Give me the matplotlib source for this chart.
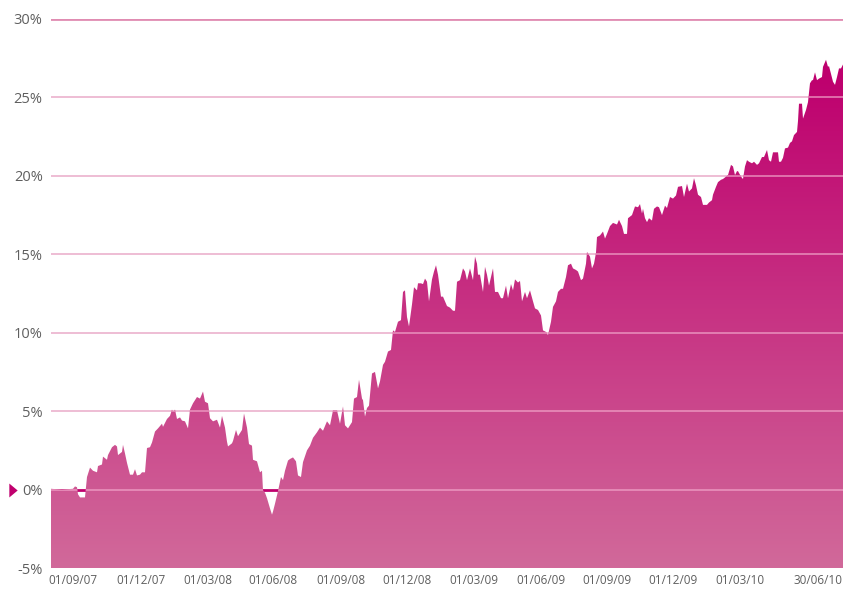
import numpy as np
import matplotlib
matplotlib.use("Agg")
import matplotlib.pyplot as plt
from matplotlib.colors import LinearSegmentedColormap

# trading-day number since start of the series, and cumulative return (%)
day = [0, 11, 22, 24, 26, 27, 29, 34, 36, 39, 42, 46, 47, 51, 52, 56, 57, 61,
       64, 66, 67, 71, 72, 74, 76, 79, 82, 84, 86, 89, 91, 94, 96, 99, 101,
       104, 107, 111, 112, 116, 119, 121, 122, 124, 126, 129, 131, 134, 137,
       139, 142, 146, 149, 152, 154, 157, 159, 162, 166, 169, 171, 174, 176,
       177, 181, 182, 185, 187, 191, 193, 196, 198, 201, 202, 206, 209, 211,
       212, 214, 216, 219, 221, 222, 224, 227, 230, 232, 234, 237, 239, 242,
       245, 247, 250, 252, 256, 259, 262, 266, 269, 272, 276, 279, 282, 286,
       289, 292, 294, 297, 301, 303, 306, 308, 311, 312, 314, 316, 318, 321,
       324, 327, 329, 332, 334, 337, 340, 342, 344, 347, 350, 352, 354, 356,
       358, 361, 363, 366, 367, 370, 372, 374, 376, 378, 381, 383, 385, 387,
       390, 392, 394, 396, 399, 402, 404, 406, 409, 412, 414, 416, 419, 422,
       424, 426, 427, 429, 432, 434, 436, 438, 442, 444, 447, 450, 452, 455,
       457, 460, 462, 464, 467, 469, 471, 474, 476, 479, 482, 484, 487, 490,
       492, 495, 497, 500, 502, 505, 507, 510, 512, 515, 517, 520, 522, 525,
       527, 530, 532, 535, 536, 539, 541, 543, 545, 546, 549, 552, 554, 556,
       559, 562, 566, 568, 571, 573, 576, 577, 581, 584, 587, 589, 591, 592,
       594, 596, 598, 601, 603, 606, 608, 611, 614, 616, 619, 622, 625, 627,
       631, 633, 636, 638, 641, 643, 645, 647, 650, 652, 656, 658, 661, 662,
       665, 667, 670, 672, 675, 677, 680, 682, 684, 686, 687, 690, 692, 694,
       696, 698, 701, 703, 706, 708, 711, 713, 716, 718, 720, 722, 725, 727,
       728, 730, 732, 734, 737, 739, 741, 743, 746, 747, 748, 751, 752, 755,
       757, 759, 761, 762, 764, 766, 768, 771, 772, 775, 777, 778, 780, 782,
       784, 786, 788, 790, 792]
ret = [0.05, 0.0, 0.05, 0.2, 0.15, -0.3, -0.5, -0.5, 0.8, 1.4, 1.2, 1.1, 1.5,
       1.6, 2.1, 1.9, 2.2, 2.7, 2.85, 2.75, 2.2, 2.4, 2.85, 2.3, 1.7, 0.95,
       0.95, 1.3, 0.9, 0.95, 1.1, 1.1, 2.65, 2.7, 3.0, 3.7, 3.9, 4.2, 4.0, 4.5,
       4.7, 5.1, 4.95, 5.1, 4.5, 4.6, 4.4, 4.35, 3.9, 5.1, 5.5, 5.9, 5.8, 6.25,
       5.6, 5.5, 4.55, 4.35, 4.45, 3.95, 4.7, 3.95, 3.05, 2.75, 2.95, 3.1,
       3.8, 3.4, 3.8, 4.85, 3.95, 2.9, 2.8, 1.9, 1.8, 1.1, 1.2, -0.05, -0.2,
       -0.55, -1.2, -1.6, -1.4, -0.9, -0.1, 0.8, 0.6, 1.2, 1.85, 1.95, 2.05,
       1.8, 0.9, 0.8, 1.75, 2.5, 2.8, 3.3, 3.65, 3.95, 3.75, 4.35, 4.1, 5.05,
       5.05, 4.2, 5.3, 4.1, 3.9, 4.3, 5.8, 5.9, 7.0, 5.8, 5.7, 4.65, 5.2,
       5.35, 7.4, 7.5, 6.45, 6.9, 7.95, 8.15, 8.8, 8.9, 10.15, 10.05, 10.7,
       10.8, 12.6, 12.7, 11.0, 10.4, 11.8, 12.9, 12.7, 13.15, 13.15, 13.1,
       13.45, 13.25, 12.0, 13.4, 13.9, 14.3, 13.7, 12.3, 12.3, 12.0, 11.7,
       11.6, 11.4, 11.4, 13.25, 13.35, 14.1, 13.9, 13.35, 14.1, 13.35, 14.85,
       14.4, 13.7, 13.7, 12.6, 14.2, 13.7, 13.0, 14.1, 12.6, 12.6, 12.2, 12.2,
       13.0, 12.2, 13.1, 12.7, 13.4, 13.2, 13.3, 12.0, 12.6, 12.2, 12.7, 12.0,
       11.55, 11.45, 11.1, 10.15, 10.05, 9.85, 10.7, 11.65, 12.0, 12.6, 12.8,
       12.8, 13.55, 14.3, 14.4, 14.1, 14.0, 13.9, 13.35, 13.45, 14.4, 15.15,
       14.85, 14.1, 14.4, 15.1, 16.1, 16.2, 16.45, 16.0, 16.3, 16.8, 17.0,
       16.9, 17.2, 16.8, 16.3, 16.3, 17.3, 17.5, 18.05, 18.0, 18.2, 17.6,
       17.9, 17.3, 17.05, 17.3, 17.15, 17.9, 18.05, 18.0, 17.5, 18.1, 17.95,
       18.65, 18.55, 18.75, 19.3, 19.35, 18.65, 19.5, 19.0, 19.2, 19.85, 19.4,
       18.8, 18.65, 18.15, 18.15, 18.3, 18.45, 18.8, 19.3, 19.6, 19.75, 19.8,
       19.95, 20.05, 20.7, 20.6, 20.05, 20.3, 20.3, 19.95, 19.8, 20.6, 21.0,
       20.9, 20.8, 20.9, 20.7, 20.8, 21.2, 21.2, 21.65, 21.0, 20.9, 21.5,
       21.5, 21.5, 20.9, 20.9, 21.15, 21.75, 21.8, 22.1, 22.2, 22.6, 22.8,
       23.5, 24.6, 24.6, 23.65, 24.2, 24.7, 25.9, 26.1, 26.1, 26.6, 26.1,
       26.2, 26.3, 26.95, 27.4, 26.95, 27.0, 26.5, 26.0, 25.8, 26.3, 26.85,
       26.85, 27.1]

tick_days = [22, 90, 157, 222, 290, 356, 423, 490, 556, 622, 689, 792]
tick_labels = ["01/09/07", "01/12/07", "01/03/08", "01/06/08", "01/09/08",
               "01/12/08", "01/03/09", "01/06/09", "01/09/09", "01/12/09",
               "01/03/10", "30/06/10"]
y_ticks = [-5, 0, 5, 10, 15, 20, 25, 30]

plt.rcParams['font.family'] = ['Open Sans', 'DejaVu Sans']

fig = plt.figure(figsize=(8.51, 5.90), dpi=100)
ax = fig.add_axes([51 / 851, 1 - 568 / 590, 792 / 851, 549 / 590])
ax.set_xlim(0, 792)
ax.set_ylim(-5, 30)

# grid under the area
for y in y_ticks[1:]:
    if y == 0:
        ax.axhline(y, color="#C0006E", lw=2, zorder=1)
    elif y == 30:
        ax.axhline(y, color="#E08CB2", lw=2, zorder=1)
    else:
        ax.axhline(y, color="#EBB2CD", lw=1.2, zorder=1)

# area with vertical gradient
poly = ax.fill_between(day, ret, -5, facecolor="none", edgecolor="none", zorder=2)
clip = poly.get_paths()[0]
cmap = LinearSegmentedColormap.from_list(
    "pk", [(0, "#D1699A"), (0.9, "#BE006E"), (1, "#BE006E")])
grad = np.linspace(0, 1, 256).reshape(-1, 1)
im = ax.imshow(grad, cmap=cmap, aspect="auto", origin="lower",
               extent=[0, 792, -5, 30], zorder=2, interpolation="bilinear")
im.set_clip_path(clip, ax.transData)

# grid drawn over the area
for y in y_ticks[1:-1]:
    ln = ax.axhline(y, color="#F2A6CA", lw=1.2, alpha=0.75, zorder=3)
    ln.set_clip_path(clip, ax.transData)

for s in ax.spines.values():
    s.set_visible(False)

ax.set_yticks(y_ticks)
ax.set_yticklabels([f"{v}%" for v in y_ticks])
ax.tick_params(axis="y", length=0, pad=6, labelsize=10.5, labelcolor="#5F5F5F")
ax.set_xticks(tick_days)
ax.set_xticklabels(tick_labels)
ax.tick_params(axis="x", length=0, pad=4, labelsize=8.5, labelcolor="#5F5F5F")
xt = ax.get_xticklabels()
xt[-1].set_ha("right")

# marker at the zero line
tri = [(-0.3, 0.5), (0.3, 0.0), (-0.3, -0.5), (-0.3, 0.5)]
ax.plot([-0.048], [0], marker=tri, color="#C0006E", markersize=10,
        markeredgewidth=0, transform=ax.get_yaxis_transform(),
        clip_on=False, zorder=5)

fig.savefig("out.png", dpi=100)
